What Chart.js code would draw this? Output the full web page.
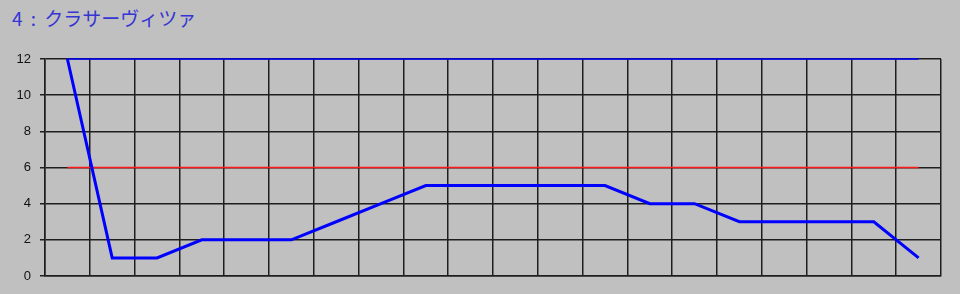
<!DOCTYPE html>
<html>
<head>
<meta charset="utf-8">
<script src="https://cdn.jsdelivr.net/npm/chart.js@4/dist/chart.umd.min.js"></script>
<style>
html,body{margin:0;padding:0;background:#c0c0c0;}
#wrap{position:relative;width:960px;height:294px;}
#title{position:absolute;left:12px;top:5px;font-family:"Noto Sans CJK JP","Noto Sans",sans-serif;font-size:19px;color:#3535d5;white-space:nowrap;line-height:26px;word-spacing:4px;font-weight:400;}
canvas{position:absolute;left:0;top:0;}
</style>
</head>
<body>
<div id="wrap">
<div id="title">4 : クラサーヴィツァ</div>
<canvas id="c" width="960" height="294"></canvas>
</div>
<script>
const categories = ["1","2","3","4","5","6","7","8","9","10","11","12","13","14","15","16","17","18","19","20"];
const rankValues = [12,1,1,2,2,2,3,4,5,5,5,5,5,4,4,3,3,3,3,1];
const topLine = [12,12,12,12,12,12,12,12,12,12,12,12,12,12,12,12,12,12,12,12];
const midLine = [6,6,6,6,6,6,6,6,6,6,6,6,6,6,6,6,6,6,6,6];
const yTicks = [0,2,4,6,8,10,12];

new Chart(document.getElementById('c'), {
  type: 'line',
  data: {
    labels: categories,
    datasets: [
      {data: rankValues, borderColor: '#0000ff', borderWidth: 3, pointRadius: 0, tension: 0, fill: false, order: 0, clip: false},
      {data: topLine, borderColor: '#0000ff', borderWidth: 1.5, pointRadius: 0, tension: 0, fill: false, order: 1, clip: false},
      {data: midLine, borderColor: '#ff1a1a', borderWidth: 1.5, pointRadius: 0, tension: 0, fill: false, order: 2, clip: false}
    ]
  },
  options: {
    responsive: false,
    animation: false,
    devicePixelRatio: 1,
    layout: {padding: {left: 0, right: 19, top: 59, bottom: 18}},
    plugins: {legend: {display: false}, tooltip: {enabled: false}, title: {display: false}},
    scales: {
      x: {
        offset: true,
        grid: {offset: true, color: '#1e1e1e', lineWidth: 1.5, drawTicks: false},
        border: {color: '#1e1e1e', width: 1.5},
        ticks: {display: false}
      },
      y: {
        min: 0, max: 12,
        afterBuildTicks: (s) => { s.ticks = yTicks.map(v => ({value: v})); },
        afterFit: (s) => { s.width = 45; },
        grid: {color: '#1e1e1e', lineWidth: 1.5, tickLength: 5},
        border: {color: '#1e1e1e', width: 1.5},
        ticks: {color: '#111', padding: 9, font: {family: 'Liberation Sans', size: 13}}
      }
    }
  }
});
</script>
</body>
</html>
